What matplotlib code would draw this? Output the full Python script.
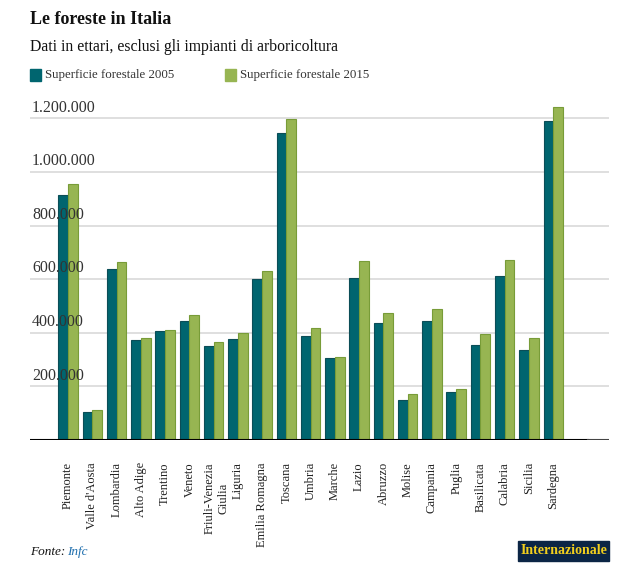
import numpy as np
import matplotlib
matplotlib.use("Agg")
import matplotlib.pyplot as plt
import matplotlib.transforms as mtransforms

# regioni e superfici forestali (ettari)
regioni = ["Piemonte", "Valle d'Aosta", "Lombardia", "Alto Adige", "Trentino",
           "Veneto", "Friuli-Venezia\nGiulia", "Liguria", "Emilia Romagna", "Toscana",
           "Umbria", "Marche", "Lazio", "Abruzzo", "Molise", "Campania", "Puglia",
           "Basilicata", "Calabria", "Sicilia", "Sardegna"]
sup_2005 = [914000, 104000, 638000, 373000, 407000, 444000, 351000, 377000, 601000,
            1146000, 388000, 306000, 605000, 437000, 149000, 444000, 179000, 354000,
            612000, 336000, 1190000]
sup_2015 = [954000, 111000, 664000, 381000, 410000, 466000, 366000, 399000, 631000,
            1198000, 418000, 310000, 668000, 474000, 172000, 489000, 190000, 396000,
            672000, 381000, 1243000]
y_ticks = [200000, 400000, 600000, 800000, 1000000, 1200000]
y_labels = ["200.000", "400.000", "600.000", "800.000", "1.000.000", "1.200.000"]

dark = "#00656f"
dark_edge = "#0b4d57"
green = "#97b552"
green_edge = "#789c38"

plt.rcParams['font.family'] = ['Liberation Serif', 'DejaVu Serif']

W, H = 621, 566
fig = plt.figure(figsize=(W / 100, H / 100), dpi=100)
ax = fig.add_axes([30 / W, 1 - 440 / H, (609 - 30) / W, (440 - 100) / H])

x = np.arange(len(regioni))
bw = 0.4
ax.bar(x - bw / 2, sup_2005, width=bw, color=dark, edgecolor=dark_edge, linewidth=0.8, zorder=3)
ax.bar(x + bw / 2, sup_2015, width=bw, color=green, edgecolor=green_edge, linewidth=0.8, zorder=3)

ax.set_xlim(-1.57, 22.3)
ax.set_ylim(0, (440 - 100) / 268 * 1e6)

for t, lab in zip(y_ticks, y_labels):
    ax.axhline(t, color="#d9d9d9", linewidth=1.2, zorder=1)
    ax.annotate(lab, xy=(0, t), xycoords=("axes fraction", "data"),
                xytext=(1.5, 2), textcoords="offset points",
                fontsize=11.5, color="#333333", va="bottom", ha="left", zorder=4)

# linea di base
ax.axhline(0, xmin=0, xmax=(588 - 30) / (609 - 30), color="black", linewidth=1.5, zorder=5)
ax.axhline(0, xmin=(588 - 30) / (609 - 30), xmax=1, color="#444444", linewidth=1.5, zorder=5)

for s in ax.spines.values():
    s.set_visible(False)
ax.set_yticks([])
ax.set_xticks(x)
ax.set_xticklabels(regioni, rotation=90, fontsize=9, color="#222222", va="top",
                   linespacing=1.3)
ax.tick_params(axis="x", length=0, pad=16)
for lbl in ax.get_xticklabels():
    if lbl.get_text().startswith("Friuli"):
        lbl.set_transform(lbl.get_transform() +
                          mtransforms.ScaledTranslation(3 / 100, 0, fig.dpi_scale_trans))

fig.text(30 / W, 1 - 20 / H, "Le foreste in Italia", fontsize=13, fontweight="bold",
         color="#111111", va="center", ha="left")
fig.text(30 / W, 1 - 47 / H, "Dati in ettari, esclusi gli impianti di arboricoltura",
         fontsize=11.3, color="#111111", va="center", ha="left")

# legenda
fig.patches.append(plt.Rectangle((30 / W, 1 - 81 / H), 11 / W, 12 / H, color=dark,
                                 transform=fig.transFigure, figure=fig))
fig.text(45 / W, 1 - 75 / H, "Superficie forestale 2005", fontsize=9.3, color="#333333",
         va="center", ha="left")
fig.patches.append(plt.Rectangle((225 / W, 1 - 81 / H), 11 / W, 12 / H, color=green,
                                 transform=fig.transFigure, figure=fig))
fig.text(240 / W, 1 - 75 / H, "Superficie forestale 2015", fontsize=9.3, color="#333333",
         va="center", ha="left")

# fonte
t1 = fig.text(30 / W, 1 - 552 / H, "Fonte:", fontsize=9.5, style="italic",
              color="#111111", va="center", ha="left")
fig.canvas.draw()
bb = t1.get_window_extent()
fig.text((bb.x1 + 2) / W, 1 - 552 / H, "Infc", fontsize=9.5, style="italic",
         color="#1f6fae", va="center", ha="left")

# logo
fig.patches.append(plt.Rectangle((518 / W, 1 - 561 / H), 91 / W, 20 / H, color="#0b2545",
                                 transform=fig.transFigure, figure=fig))
fig.text(563.5 / W, 1 - 551 / H, "Internazionale", fontsize=10, fontweight="bold",
         color="#f2cf1d", va="center", ha="center")

fig.savefig("out.png", dpi=100)
